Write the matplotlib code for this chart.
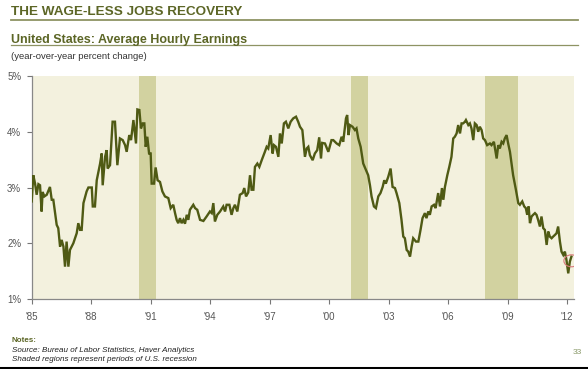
import matplotlib
matplotlib.use("Agg")
import matplotlib.pyplot as plt
from matplotlib.lines import Line2D
from matplotlib.patches import Ellipse

### Données

years = [
    1985.00, 1985.08, 1985.17, 1985.25, 1985.34, 1985.42, 1985.50, 1985.55, 1985.64, 1985.76,
    1985.92, 1986.01, 1986.09, 1986.26, 1986.34, 1986.43, 1986.51, 1986.60, 1986.68, 1986.76,
    1986.85, 1986.93, 1987.10, 1987.27, 1987.35, 1987.44, 1987.52, 1987.61, 1987.77, 1987.86,
    1988.03, 1988.08, 1988.19, 1988.28, 1988.45, 1988.53, 1988.58, 1988.70, 1988.78, 1988.83,
    1988.95, 1989.08, 1989.20, 1989.32, 1989.45, 1989.59, 1989.71, 1989.79, 1989.92, 1990.01,
    1990.13, 1990.26, 1990.33, 1990.43, 1990.51, 1990.60, 1990.68, 1990.75, 1990.83, 1990.92,
    1991.00, 1991.05, 1991.17, 1991.25, 1991.35, 1991.47, 1991.59, 1991.72, 1991.89, 1992.01,
    1992.14, 1992.23, 1992.31, 1992.39, 1992.48, 1992.56, 1992.65, 1992.73, 1992.82, 1992.90,
    1992.98, 1993.15, 1993.24, 1993.35, 1993.49, 1993.66, 1993.82, 1993.99, 1994.08, 1994.16,
    1994.24, 1994.36, 1994.50, 1994.66, 1994.75, 1994.83, 1994.97, 1995.08, 1995.17, 1995.25,
    1995.37, 1995.50, 1995.64, 1995.72, 1995.81, 1995.92, 1996.01, 1996.09, 1996.18, 1996.26,
    1996.38, 1996.48, 1996.60, 1996.76, 1996.85, 1996.93, 1997.05, 1997.15, 1997.22, 1997.32,
    1997.44, 1997.52, 1997.61, 1997.72, 1997.82, 1997.94, 1998.06,
    1998.19, 1998.33, 1998.44, 1998.53, 1998.65, 1998.78, 1998.87, 1998.95, 1999.03, 1999.17,
    1999.28, 1999.40, 1999.50, 1999.59, 1999.65, 1999.79, 1999.96, 2000.12, 2000.21, 2000.38,
    2000.51, 2000.63, 2000.71, 2000.85, 2000.91, 2000.98, 2001.05, 2001.18, 2001.30, 2001.38,
    2001.47, 2001.59, 2001.72, 2001.86, 2001.97, 2002.06, 2002.14, 2002.26, 2002.36, 2002.48,
    2002.59, 2002.70, 2002.78, 2002.86, 2002.98, 2003.10, 2003.20, 2003.32, 2003.40, 2003.54,
    2003.65, 2003.74, 2003.82, 2003.91, 2003.99, 2004.08, 2004.16, 2004.24, 2004.38, 2004.50,
    2004.61, 2004.71, 2004.83, 2004.91, 2005.00, 2005.08, 2005.17, 2005.29, 2005.37, 2005.50,
    2005.59, 2005.69, 2005.76, 2005.84, 2005.96, 2006.06, 2006.17, 2006.26, 2006.34, 2006.43,
    2006.51, 2006.60, 2006.68, 2006.76, 2006.85, 2006.90, 2007.02, 2007.10, 2007.18, 2007.27,
    2007.35, 2007.44, 2007.52, 2007.60, 2007.69, 2007.77, 2007.86, 2007.97, 2008.11, 2008.19,
    2008.31, 2008.45, 2008.53, 2008.61, 2008.70, 2008.78, 2008.86, 2008.95, 2009.03, 2009.12,
    2009.20, 2009.28, 2009.42, 2009.54, 2009.62, 2009.74, 2009.84, 2009.92, 2009.99, 2010.06,
    2010.13, 2010.21, 2010.29, 2010.38, 2010.46, 2010.54, 2010.63, 2010.71, 2010.80, 2010.88,
    2010.97, 2011.05, 2011.13, 2011.22, 2011.30, 2011.39, 2011.47, 2011.55, 2011.64, 2011.72,
    2011.81, 2011.89, 2011.97, 2012.06, 2012.14, 2012.22,
]

earnings = [
    2.75, 3.22, 3.07, 2.87, 3.06, 3.04, 2.57, 2.92, 2.84, 2.87,
    3.01, 2.78, 2.78, 2.33, 2.27, 1.94, 2.06, 1.94, 1.58, 2.03,
    1.58, 1.88, 2.00, 2.18, 2.36, 2.24, 2.24, 2.72, 2.93, 3.00,
    3.00, 2.66, 2.66, 3.13, 3.43, 3.61, 3.04, 3.55, 3.67, 3.34,
    3.40, 4.18, 4.18, 3.40, 3.88, 3.85, 3.76, 3.64, 3.94, 3.85,
    4.21, 3.79, 4.40, 4.39, 4.06, 4.15, 4.15, 3.73, 3.91, 3.61,
    3.61, 3.07, 3.07, 3.36, 3.13, 3.10, 2.93, 2.84, 2.81, 2.63,
    2.69, 2.54, 2.42, 2.36, 2.45, 2.36, 2.42, 2.35, 2.51, 2.42,
    2.60, 2.69, 2.63, 2.60, 2.42, 2.40, 2.48, 2.57, 2.54, 2.72,
    2.39, 2.51, 2.57, 2.66, 2.57, 2.69, 2.69, 2.51, 2.63, 2.69,
    2.57, 2.87, 2.90, 2.99, 2.84, 2.91, 3.22, 2.96, 2.96, 3.37,
    3.43, 3.37, 3.49, 3.64, 3.73, 3.70, 3.94, 3.61, 3.76, 3.73,
    3.55, 3.97, 3.79, 4.15, 4.18, 4.06, 4.18,
    4.24, 4.27, 4.18, 4.09, 4.03, 3.55, 3.70, 3.73, 3.58, 3.49,
    3.61, 3.67, 3.90, 3.52, 3.80, 3.79, 3.64, 3.85, 3.85, 3.79,
    3.76, 3.91, 3.82, 4.24, 4.30, 3.94, 4.12, 4.09, 4.03, 4.06,
    3.88, 3.73, 3.43, 3.31, 3.22, 3.04, 2.84, 2.66, 2.63, 2.84,
    2.90, 3.01, 3.13, 3.07, 3.19, 3.34, 3.01, 2.99, 2.90, 2.72,
    2.42, 2.12, 2.09, 1.88, 1.85, 1.76, 1.94, 2.09, 2.03, 2.03,
    2.24, 2.45, 2.54, 2.45, 2.57, 2.51, 2.66, 2.69, 2.63, 2.90,
    2.66, 2.99, 2.78, 3.01, 3.22, 3.37, 3.55, 3.88, 3.91, 3.97,
    4.12, 3.97, 4.15, 4.15, 4.18, 4.21, 4.12, 4.15, 4.06, 3.85,
    4.15, 4.12, 4.00, 4.09, 4.03, 3.88, 3.85, 3.76, 3.79, 3.76,
    3.82, 3.52, 3.76, 3.70, 3.82, 3.79, 3.88, 3.94, 3.79, 3.64,
    3.43, 3.22, 2.96, 2.72, 2.69, 2.75, 2.66, 2.63, 2.51, 2.66,
    2.36, 2.48, 2.51, 2.54, 2.51, 2.42, 2.30, 2.48, 2.27, 2.24,
    1.97, 2.21, 2.12, 2.09, 2.12, 2.15, 2.18, 2.30, 2.03, 1.85,
    1.79, 1.85, 1.70, 1.46, 1.67, 1.76,
]

# récessions (début, fin)
recessions = [(1990.42, 1991.27), (2001.10, 2001.94), (2007.87, 2009.54)]

tick_years = [1985, 1988, 1991, 1994, 1997, 2000, 2003, 2006, 2009, 2012]
tick_labels = ["'85", "'88", "'91", "'94", "'97", "'00", "'03", "'06", "'09", "'12"]
y_ticks = [1, 2, 3, 4, 5]
y_labels = ["1%", "2%", "3%", "4%", "5%"]

# point final entouré en rouge
last_point = (2012.22, 1.685)

### Couleurs

olive = "#4f5a14"
title_col = "#5c6626"
bg = "#f3f1de"
shade = "#d2d2a0"
grey = "#555555"

W, H = 588, 369

def fx(x):
    return x / W

def fy(y):
    return 1 - y / H

plt.rcParams['font.family'] = ['Liberation Sans', 'DejaVu Sans']

fig = plt.figure(figsize=(W / 100, H / 100), dpi=100)
fig.patch.set_facecolor("white")

ax = fig.add_axes([fx(31.7), fy(299), (574 - 31.7) / W, (299 - 76) / H])
ax.set_facecolor(bg)

for a, b in recessions:
    ax.axvspan(a, b, color=shade, lw=0, zorder=1)

ax.plot(years, earnings, color=olive, lw=1.7, zorder=3, solid_joinstyle="miter")

ax.add_patch(Ellipse(last_point, 0.76, 0.215, fill=False,
                     edgecolor="#d9787a", lw=0.8, zorder=4))

ax.set_xlim(1985.0, 2012.35)
ax.set_ylim(1, 5)
ax.set_xticks(tick_years)
ax.set_xticklabels(tick_labels)
ax.set_yticks(y_ticks)
ax.set_yticklabels(y_labels)
ax.tick_params(axis="both", colors="#777777", labelcolor=grey, labelsize=7,
               length=3.5, width=0.8)
ax.tick_params(axis="x", pad=6)
ax.tick_params(axis="y", pad=4)
for s in ["top", "right"]:
    ax.spines[s].set_visible(False)
for s in ["left", "bottom"]:
    ax.spines[s].set_color("#888888")
    ax.spines[s].set_linewidth(0.9)

### Titres

fig.text(fx(11), fy(12), "THE WAGE-LESS JOBS RECOVERY", fontsize=9.7,
         fontweight="bold", color=title_col, va="center", ha="left")
fig.add_artist(Line2D([fx(11), fx(578)], [fy(19.5), fy(19.5)],
                      color="#8e9363", lw=1.3))
fig.text(fx(11), fy(40), "United States: Average Hourly Earnings", fontsize=9,
         fontweight="bold", color=title_col, va="center", ha="left")
fig.add_artist(Line2D([fx(11), fx(578)], [fy(44.5), fy(44.5)],
                      color="#8e9363", lw=0.9))
fig.text(fx(11), fy(56.5), "(year-over-year percent change)", fontsize=6.8,
         color="#333333", va="center", ha="left")

### Notes

fig.text(fx(12), fy(340), "Notes:", fontsize=5.8, fontweight="bold",
         color="#5c6626", va="center", ha="left")
fig.text(fx(12), fy(350), "Source: Bureau of Labor Statistics, Haver Analytics",
         fontsize=5.8, style="italic", color="#222222", va="center", ha="left")
fig.text(fx(12), fy(359.5), "Shaded regions represent periods of U.S. recession",
         fontsize=5.8, style="italic", color="#222222", va="center", ha="left")
fig.text(fx(582), fy(353), "33", fontsize=6, color="#8a9a6a", va="center", ha="right")

fig.add_artist(Line2D([0, 1], [fy(367.5), fy(367.5)], color="black", lw=2.2))

fig.savefig("out.png", dpi=100, facecolor=fig.get_facecolor())
